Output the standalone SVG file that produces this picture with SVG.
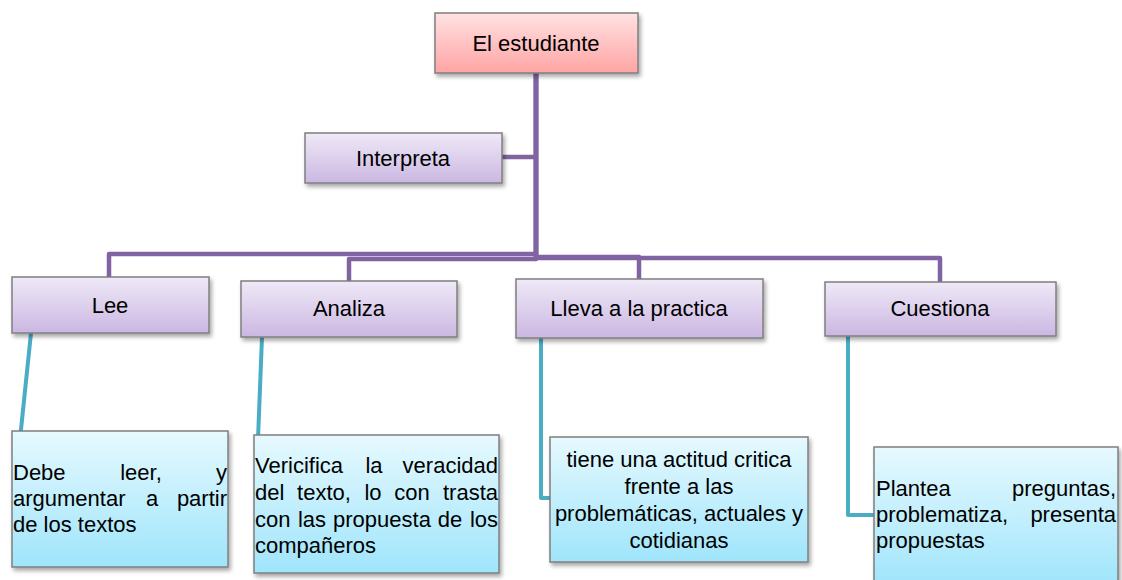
<svg xmlns="http://www.w3.org/2000/svg" width="1122" height="580" viewBox="0 0 1122 580">
<defs>
<linearGradient id="gPink" x1="0" y1="0" x2="0" y2="1"><stop offset="0" stop-color="#FFE2E2"/><stop offset="1" stop-color="#FFA4A4"/></linearGradient>
<linearGradient id="gPurple" x1="0" y1="0" x2="0" y2="1"><stop offset="0" stop-color="#EFE9F7"/><stop offset="1" stop-color="#CBB7E2"/></linearGradient>
<linearGradient id="gBlue" x1="0" y1="0" x2="0" y2="1"><stop offset="0" stop-color="#E6F9FE"/><stop offset="1" stop-color="#9FE5FB"/></linearGradient>
<filter id="sh" x="-10%" y="-10%" width="125%" height="135%"><feDropShadow dx="2" dy="3" stdDeviation="2" flood-color="#000" flood-opacity="0.35"/></filter>
<style>
.box{stroke:#7F7F7F;stroke-width:1.5;filter:url(#sh)}
.pink{fill:url(#gPink)}
.purple{fill:url(#gPurple)}
.blue{fill:url(#gBlue)}
.t{font-family:"Liberation Sans",Arial,sans-serif;font-size:22px;fill:#000}
.c{text-anchor:middle}
.e{text-anchor:end}
.pc{fill:none;stroke:#8064A2;stroke-width:4.5;stroke-linejoin:round}
.tc{fill:none;stroke:#4BACC6;stroke-width:4;stroke-linejoin:round}
</style>
</defs>
<rect width="1122" height="580" fill="#fff"/>
<g id="connectors">
<path class="pc" d="M536,73 V254 H109 V277"/>
<path class="pc" d="M536,73 V259 H349 V281"/>
<path class="pc" d="M536,73 V257 H639 V279"/>
<path class="pc" d="M536,73 V258 H940 V282"/>
<path class="pc" d="M502,157 H536"/>
<path class="tc" d="M31,333 L14,497"/>
<path class="tc" d="M262,337 L256,490"/>
<path class="tc" d="M541,338 V498 H551"/>
<path class="tc" d="M848,336 V515 H875"/>
</g>
<g id="n-estudiante"><rect class="box pink" x="435" y="13" width="203" height="60"/><text class="t c" x="536" y="51">El estudiante</text></g>
<g id="n-interpreta"><rect class="box purple" x="305" y="133" width="197" height="50"/><text class="t c" x="403" y="166">Interpreta</text></g>
<g id="n-lee"><rect class="box purple" x="12" y="277" width="197" height="56"/><text class="t c" x="110" y="313">Lee</text></g>
<g id="n-analiza"><rect class="box purple" x="241" y="281" width="216" height="56"/><text class="t c" x="349" y="316">Analiza</text></g>
<g id="n-lleva"><rect class="box purple" x="516" y="279" width="247" height="59"/><text class="t c" x="639" y="316">Lleva a la practica</text></g>
<g id="n-cuestiona"><rect class="box purple" x="825" y="282" width="231" height="54"/><text class="t c" x="940" y="316">Cuestiona</text></g>
<g id="n-debe"><rect class="box blue" x="12" y="431" width="216" height="136"/>
<text class="t" x="13" y="480">Debe</text><text class="t c" x="141" y="480">leer,</text><text class="t e" x="227" y="480">y</text>
<text class="t" x="13" y="506">argumentar</text><text class="t c" x="152" y="506">a</text><text class="t e" x="227" y="506">partir</text>
<text class="t" x="13" y="532">de los textos</text></g>
<g id="n-vericifica"><rect class="box blue" x="254" y="435" width="245" height="138"/>
<text class="t" x="255" y="473">Vericifica</text><text class="t c" x="374" y="473">la</text><text class="t e" x="498" y="473">veracidad</text>
<text class="t" x="255" y="500">del</text><text class="t c" x="324" y="500">texto,</text><text class="t c" x="373" y="500">lo</text><text class="t c" x="412" y="500">con</text><text class="t e" x="498" y="500">trasta</text>
<text class="t" x="255" y="527">con</text><text class="t c" x="312" y="527">las</text><text class="t c" x="382" y="527">propuesta</text><text class="t c" x="450" y="527">de</text><text class="t e" x="498" y="527">los</text>
<text class="t" x="255" y="553">compañeros</text></g>
<g id="n-tiene"><rect class="box blue" x="550" y="437" width="258" height="125"/>
<text class="t c" x="679" y="467">tiene una actitud critica</text>
<text class="t c" x="679" y="494">frente a las</text>
<text class="t c" x="679" y="521">problemáticas, actuales y</text>
<text class="t c" x="679" y="548">cotidianas</text></g>
<g id="n-plantea"><rect class="box blue" x="874" y="447" width="244" height="140"/>
<text class="t" x="876" y="496">Plantea</text><text class="t e" x="1116" y="496">preguntas,</text>
<text class="t" x="876" y="522">problematiza,</text><text class="t e" x="1116" y="522">presenta</text>
<text class="t" x="876" y="548">propuestas</text></g>
</svg>
